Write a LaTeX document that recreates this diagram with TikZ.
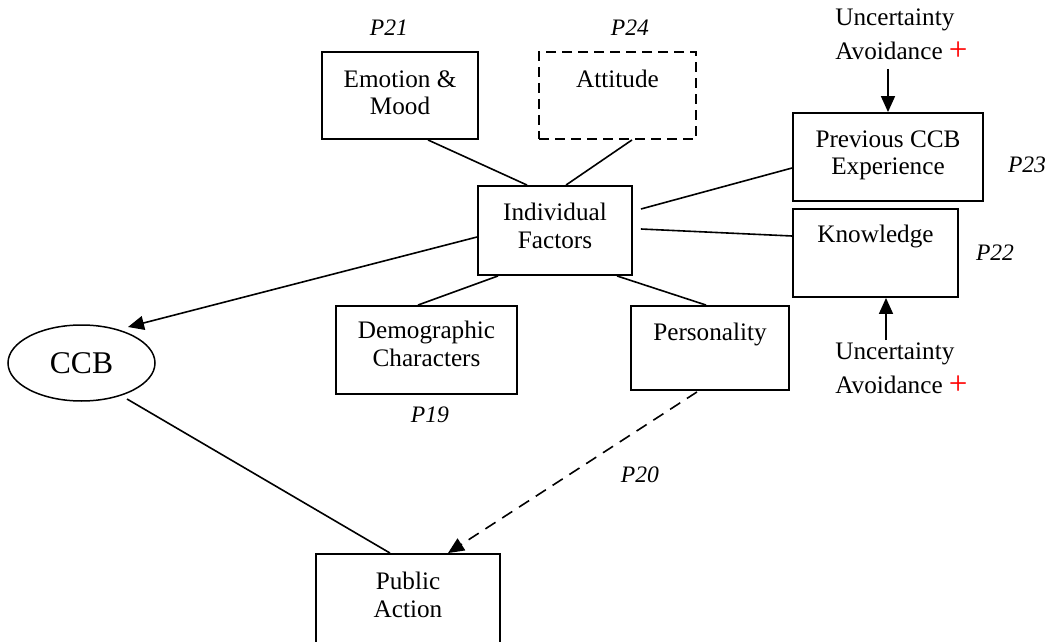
\documentclass[tikz,border=0pt]{standalone}
\usepackage{fontspec}
\setmainfont{Liberation Serif}
\usetikzlibrary{arrows.meta,calc,shapes.geometric}
\newcommand{\redplus}{{\color{red}\fontsize{16.5}{17}\selectfont\raisebox{-0.6pt}{+}}}
\begin{document}
\begin{tikzpicture}[x=0.5pt,y=-0.5pt,
  box/.style={draw, line width=0.95pt, inner sep=0pt, rectangle},
  dbox/.style={box, dash pattern=on 5pt off 3pt},
  lbl/.style={inner sep=0pt, align=center, anchor=north, font=\fontsize{12.6}{13.8}\selectfont},
  ualbl/.style={inner sep=0pt, align=left, anchor=north west, font=\fontsize{12.6}{17.2}\selectfont},
  plabel/.style={inner sep=0pt, anchor=base, font=\fontsize{11.8}{14}\selectfont\itshape},
  link/.style={line width=0.8pt},
  arr/.style={link, -{Triangle[length=8pt,width=7pt]}},
  darr/.style={arr, dash pattern=on 6pt off 4pt},
]
\useasboundingbox (0,0) rectangle (1050,642);
\clip (0,0) rectangle (1050,642);

% boxes
\node[box,  minimum width=78pt, minimum height=43.5pt] (emo)  at (400,95.5) {};
\node[dbox, minimum width=78.5pt, minimum height=43.5pt] (att) at (617.5,95.5) {};
\node[box,  minimum width=77pt, minimum height=44.5pt] (ind)  at (555,230.5) {};
\node[box,  minimum width=95pt, minimum height=44pt] (prev)   at (888,157) {};
\node[box,  minimum width=82.5pt, minimum height=44pt] (know) at (875.5,253) {};
\node[box,  minimum width=90.5pt, minimum height=44pt] (dem)  at (426.5,350) {};
\node[box,  minimum width=79pt, minimum height=42pt] (pers)   at (710,348) {};
\node[box,  minimum width=92pt, minimum height=46pt] (pub)    at (408,600) {};
\node[draw, ellipse, line width=0.75pt, inner sep=0pt, minimum width=73.5pt, minimum height=38pt,
      font=\fontsize{15.8}{18}\selectfont] (ccb) at (81.5,363) {CCB};

% box texts
\node[lbl] at ($(emo.north)+(0,19)$)  {Emotion \&\\Mood};
\node[lbl] at ($(att.north)+(0,19)$)  {Attitude};
\node[lbl] at ($(ind.north)+(0,18)$)  {Individual\\Factors};
\node[lbl] at ($(prev.north)+(0,18)$) {Previous CCB\\Experience};
\node[lbl] at ($(know.north)+(0,17)$) {Knowledge};
\node[lbl] at ($(dem.north)+(0,16)$)  {Demographic\\Characters};
\node[lbl] at ($(pers.north)+(0,18)$) {Personality};
\node[lbl] at ($(pub.north)+(0,19)$)  {Public\\Action};

% proposition labels
\node[plabel] (p21) at (389,36)  {P21};
\node[plabel] (p24) at (630,36)  {P24};
\node[plabel] (p23) at (1027,172) {P23};
\node[plabel] (p22) at (995,260) {P22};
\node[plabel] (p19) at (430,422) {P19};
\node[plabel] (p20) at (640,482) {P20};

% moderators
\node[ualbl] (uatop) at (835,8)   {Uncertainty\\Avoidance \redplus};
\node[ualbl] (uabot) at (835,342) {Uncertainty\\Avoidance \redplus};
\coordinate (uat) at (888,69);
\coordinate (uab) at (886,340);
\draw[arr] (uat) -- (prev.north);
\draw[arr] (uab) -- ($(know.south)+(10.5,0)$);

% links
\draw[link] ($(emo.south)+(28,0)$)   -- ($(ind.north)+(-28,0)$);
\draw[link] ($(att.south)+(14.5,0)$) -- ($(ind.north)+(11,0)$);
\draw[link] ($(ind.east)+(8,-21.5)$) -- ($(prev.west)+(0,11)$);
\draw[link] ($(ind.east)+(8,-1.5)$)  -- ($(know.west)+(0,-17)$);
\draw[link] ($(ind.south)+(-57,0)$)  -- ($(dem.north)+(-8.5,0)$);
\draw[link] ($(ind.south)+(62,0)$)   -- ($(pers.north)+(-4,0)$);
\draw[arr]  ($(ind.west)+(0,6.5)$)   -- ($(ccb.center)+(46.5,-36)$);
\draw[link] ($(ccb.center)+(45.5,36)$) -- ($(pub.north)+(-18,0)$);
\draw[darr] ($(pers.south)+(-13,1)$) -- ($(pub.north)+(40,0)$);
\end{tikzpicture}
\end{document}
